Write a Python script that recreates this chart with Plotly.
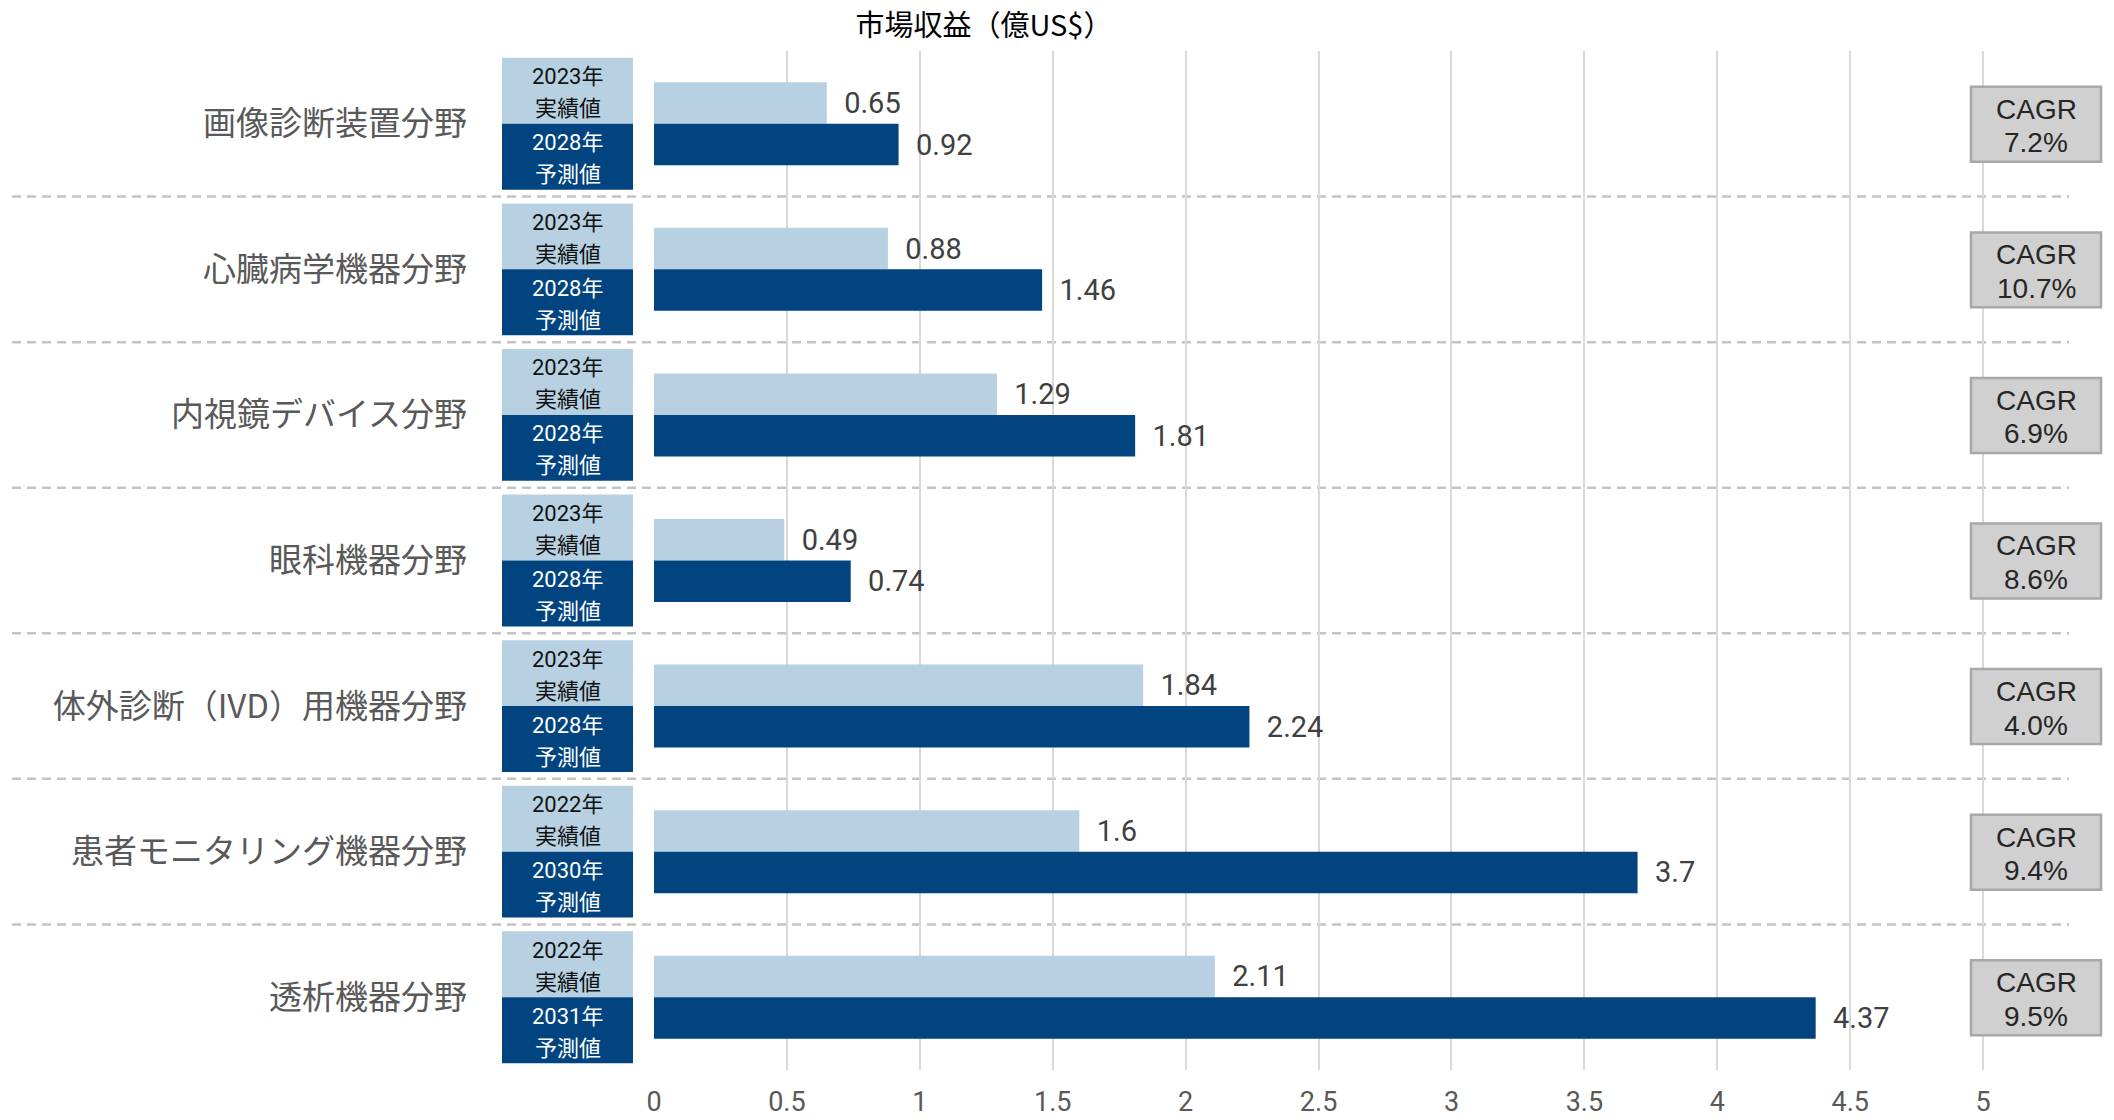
import plotly.graph_objects as go

# ---------------- data ----------------
categories = [
    "画像診断装置分野",
    "心臓病学機器分野",
    "内視鏡デバイス分野",
    "眼科機器分野",
    "体外診断（IVD）用機器分野",
    "患者モニタリング機器分野",
    "透析機器分野",
]
actual_values = [0.65, 0.88, 1.29, 0.49, 1.84, 1.6, 2.11]
forecast_values = [0.92, 1.46, 1.81, 0.74, 2.24, 3.7, 4.37]
actual_years = ["2023年", "2023年", "2023年", "2023年", "2023年", "2022年", "2022年"]
forecast_years = ["2028年", "2028年", "2028年", "2028年", "2028年", "2030年", "2031年"]
actual_label = "実績値"
forecast_label = "予測値"
cagr_values = ["7.2%", "10.7%", "6.9%", "8.6%", "4.0%", "9.4%", "9.5%"]
x_ticks = [0, 0.5, 1, 1.5, 2, 2.5, 3, 3.5, 4, 4.5, 5]
x_ticktext = ["0", "0.5", "1", "1.5", "2", "2.5", "3", "3.5", "4", "4.5", "5"]
title_text = "市場収益（億US$）"

# ---------------- styles ----------------
LIGHT = "#B7D1E2"
DARK = "#01447F"
W, H = 2114, 1120
ML, MR, MT, MB = 654, 45, 51, 50
PW = W - ML - MR
XMAX = 5.323
NUM_FONT = "Roboto, Noto Sans CJK JP"
CJK_FONT = "Noto Sans CJK JP"
NB = "\u00a0"

def px_to_paper_x(px):
    return (px - ML) / PW

fig = go.Figure()
fig.add_trace(go.Bar(
    y=categories, x=actual_values, orientation="h",
    marker=dict(color=LIGHT, line=dict(width=0)),
    texttemplate=NB * 2 + "%{x}", textposition="outside",
    textfont=dict(family=NUM_FONT, size=29, color="#404040"),
    constraintext="none", cliponaxis=False, showlegend=False,
))
fig.add_trace(go.Bar(
    y=categories, x=forecast_values, orientation="h",
    marker=dict(color=DARK, line=dict(width=0)),
    texttemplate=NB * 2 + "%{x}", textposition="outside",
    textfont=dict(family=NUM_FONT, size=29, color="#404040"),
    constraintext="none", cliponaxis=False, showlegend=False,
))

shapes = []
annotations = []
box_half = 0.453
bx0, bx1 = px_to_paper_x(502), px_to_paper_x(633)
bxc = (bx0 + bx1) / 2
cx0, cx1 = px_to_paper_x(1971), px_to_paper_x(2101)
cxc = (cx0 + cx1) / 2
n = len(categories)
for i in range(n):
    # separator dashed lines
    if i < n - 1:
        shapes.append(dict(type="line", xref="paper", yref="y",
                           x0=px_to_paper_x(12), x1=1.0, y0=i + 0.5, y1=i + 0.5,
                           line=dict(color="#C4C4C4", width=2.5, dash="9px,6px"),
                           layer="below"))
    # year boxes
    shapes.append(dict(type="rect", xref="paper", yref="y",
                       x0=bx0, x1=bx1, y0=i - box_half, y1=i,
                       fillcolor=LIGHT, line=dict(width=0)))
    shapes.append(dict(type="rect", xref="paper", yref="y",
                       x0=bx0, x1=bx1, y0=i, y1=i + box_half,
                       fillcolor=DARK, line=dict(width=0)))
    for txt, off, col in [(actual_years[i], -0.323, "#111111"),
                          (actual_label, -0.103, "#111111"),
                          (forecast_years[i], 0.130, "#FFFFFF"),
                          (forecast_label, 0.350, "#FFFFFF")]:
        annotations.append(dict(xref="paper", yref="y", x=bxc, y=i + off,
                                text=txt, showarrow=False, xanchor="center",
                                yanchor="middle",
                                font=dict(family=NUM_FONT, size=22, color=col)))
    # CAGR boxes
    shapes.append(dict(type="rect", xref="paper", yref="y",
                       x0=cx0, x1=cx1, y0=i - 0.254, y1=i + 0.261,
                       fillcolor="#D0D0D0", line=dict(color="#A8A8A8", width=2.5)))
    for txt, off in [("CAGR", -0.10), (cagr_values[i], 0.13)]:
        annotations.append(dict(xref="paper", yref="y", x=cxc, y=i + off,
                                text=txt, showarrow=False, xanchor="center",
                                yanchor="middle",
                                font=dict(family="Liberation Sans, Arial", size=28,
                                          color="#262626")))

fig.update_layout(
    width=W, height=H,
    margin=dict(l=ML, r=MR, t=MT, b=MB, autoexpand=False),
    paper_bgcolor="white", plot_bgcolor="white",
    barmode="group", bargap=0.43, bargroupgap=0,
    showlegend=False,
    title=dict(text=title_text, x=984 / W, xref="container", xanchor="center",
               y=1 - 26 / H, yref="container", yanchor="middle",
               font=dict(family=CJK_FONT, size=29, color="#000000")),
    xaxis=dict(range=[0, XMAX], tickvals=x_ticks, ticktext=x_ticktext,
               showgrid=True, gridcolor="#D9D9D9", gridwidth=2,
               zeroline=False, showline=False, ticks="",
               tickfont=dict(family=NUM_FONT, size=27, color="#595959"),
               ticklabelstandoff=13),
    yaxis=dict(type="category", range=[n - 0.5, -0.5],
               showgrid=False, zeroline=False, showline=False, ticks="",
               tickfont=dict(family=CJK_FONT, size=33, color="#595959"),
               ticklabelstandoff=186),
    shapes=shapes,
    annotations=annotations,
)

fig.write_html(
    "out.html",
    config={"displayModeBar": False},
    post_script="document.body.style.margin='0';document.body.style.padding='0';",
)
